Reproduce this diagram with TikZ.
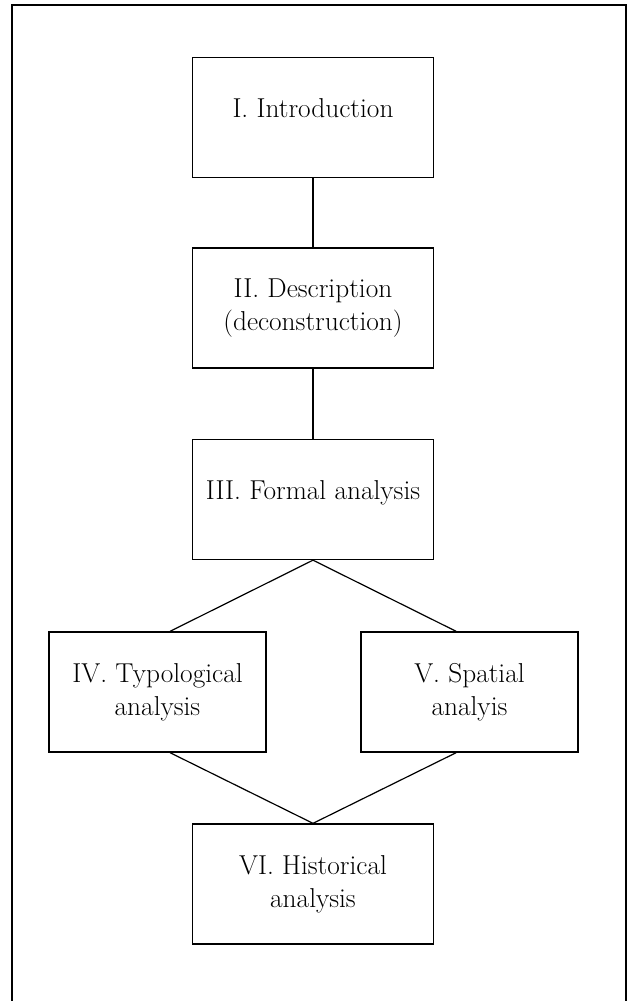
\documentclass[tikz,border=0pt]{standalone}
\usetikzlibrary{calc}
\tikzset{stage/.style={draw, line width=1pt, inner sep=0pt, align=center,
		minimum width=180.75pt, minimum height=90pt,
		font=\fontsize{20.5}{24.5}\selectfont}}
\tikzset{narrow/.style={minimum width=162.75pt}}
\tikzset{oneline/.style={text depth=13.5pt}}
\tikzset{link/.style={line width=0.9pt}}

\begin{document}
\begin{tikzpicture}[x=0.75pt, y=-0.75pt]
	\useasboundingbox (0,0) rectangle (627,1001);
	\draw[line width=1.5pt] (12,1001) -- (12,5) -- (625.5,5) -- (625.5,1001);
	
	\node[stage,oneline] (intro) at (313,117.5) {I. Introduction};
	\node[stage] (descr) at (313,308) {II. Description\\(deconstruction)};
	\node[stage,oneline] (formal) at (313,499.5) {III. Formal analysis};
	\node[stage,narrow] (typo) at (157.5,692) {IV. Typological\\analysis};
	\node[stage,narrow] (spat) at (469.5,692) {V. Spatial\\analyis};
	\node[stage] (hist) at (313,884) {VI. Historical\\analysis};
	
	\draw[link] (intro.south) -- (descr.north);
	\draw[link] (descr.south) -- (formal.north);
	
	\draw[link] (formal.south) -- ([xshift=9.4pt]typo.north);
	\draw[link] (formal.south) -- ([xshift=-10pt]spat.north);
	
	\draw[link] ([xshift=9.4pt]typo.south) -- (hist.north);
	\draw[link] ([xshift=-10pt]spat.south) -- (hist.north);
	
\end{tikzpicture}
\end{document}
